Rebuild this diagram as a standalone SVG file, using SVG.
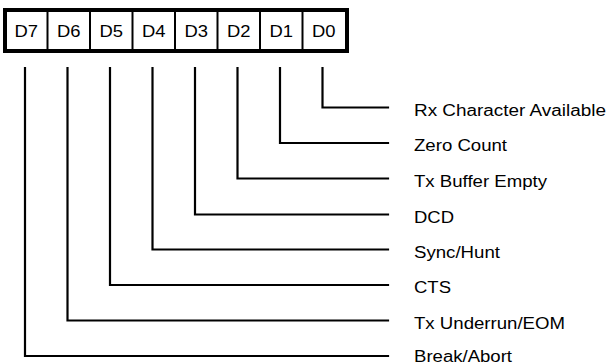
<svg xmlns="http://www.w3.org/2000/svg" width="609" height="364" viewBox="0 0 609 364">
<style>
.t{font-family:"Liberation Sans",Arial,sans-serif;font-size:16px;fill:#000}
.c{text-anchor:middle}
.w{fill:none;stroke:#000;stroke-width:2.2;stroke-linecap:square;stroke-linejoin:miter}
</style>
<rect width="609" height="364" fill="#fff"/>
<g id="register">
<rect x="5" y="10" width="342" height="41" fill="#fff" stroke="#000" stroke-width="4"/>
<g stroke="#000" stroke-width="2">
<line x1="47.5" y1="10" x2="47.5" y2="51"/>
<line x1="90" y1="10" x2="90" y2="51"/>
<line x1="132.5" y1="10" x2="132.5" y2="51"/>
<line x1="175" y1="10" x2="175" y2="51"/>
<line x1="217.5" y1="10" x2="217.5" y2="51"/>
<line x1="260" y1="10" x2="260" y2="51"/>
<line x1="302.5" y1="10" x2="302.5" y2="51"/>
</g>
<text class="t c" x="26.3" y="36.7" textLength="23.5" lengthAdjust="spacingAndGlyphs">D7</text>
<text class="t c" x="68.8" y="36.7" textLength="23.5" lengthAdjust="spacingAndGlyphs">D6</text>
<text class="t c" x="111.3" y="36.7" textLength="23.5" lengthAdjust="spacingAndGlyphs">D5</text>
<text class="t c" x="153.8" y="36.7" textLength="23.5" lengthAdjust="spacingAndGlyphs">D4</text>
<text class="t c" x="196.3" y="36.7" textLength="23.5" lengthAdjust="spacingAndGlyphs">D3</text>
<text class="t c" x="238.8" y="36.7" textLength="23.5" lengthAdjust="spacingAndGlyphs">D2</text>
<text class="t c" x="281.3" y="36.7" textLength="23.5" lengthAdjust="spacingAndGlyphs">D1</text>
<text class="t c" x="323.8" y="36.7" textLength="23.5" lengthAdjust="spacingAndGlyphs">D0</text>
</g>
<g id="connectors">
<polyline class="w" points="322.5,68 322.5,107.5 388,107.5"/>
<polyline class="w" points="280,68 280,143 388,143"/>
<polyline class="w" points="237.5,68 237.5,178.5 388,178.5"/>
<polyline class="w" points="195,68 195,214.5 388,214.5"/>
<polyline class="w" points="152.5,68 152.5,249.5 388,249.5"/>
<polyline class="w" points="110,68 110,285 388,285"/>
<polyline class="w" points="67.5,68 67.5,320.5 388,320.5"/>
<polyline class="w" points="25,68 25,356 388,356"/>
</g>
<g id="label-d0"><text class="t" x="414" y="115.5" textLength="192" lengthAdjust="spacingAndGlyphs">Rx Character Available</text></g>
<g id="label-d1"><text class="t" x="414" y="151" textLength="93" lengthAdjust="spacingAndGlyphs">Zero Count</text></g>
<g id="label-d2"><text class="t" x="414" y="186.5" textLength="133" lengthAdjust="spacingAndGlyphs">Tx Buffer Empty</text></g>
<g id="label-d3"><text class="t" x="414" y="222.5" textLength="40" lengthAdjust="spacingAndGlyphs">DCD</text></g>
<g id="label-d4"><text class="t" x="414" y="257.5" textLength="86" lengthAdjust="spacingAndGlyphs">Sync/Hunt</text></g>
<g id="label-d5"><text class="t" x="414" y="293" textLength="37" lengthAdjust="spacingAndGlyphs">CTS</text></g>
<g id="label-d6"><text class="t" x="414" y="328.5" textLength="151" lengthAdjust="spacingAndGlyphs">Tx Underrun/EOM</text></g>
<g id="label-d7"><text class="t" x="414" y="361.5" textLength="98" lengthAdjust="spacingAndGlyphs">Break/Abort</text></g>
</svg>
